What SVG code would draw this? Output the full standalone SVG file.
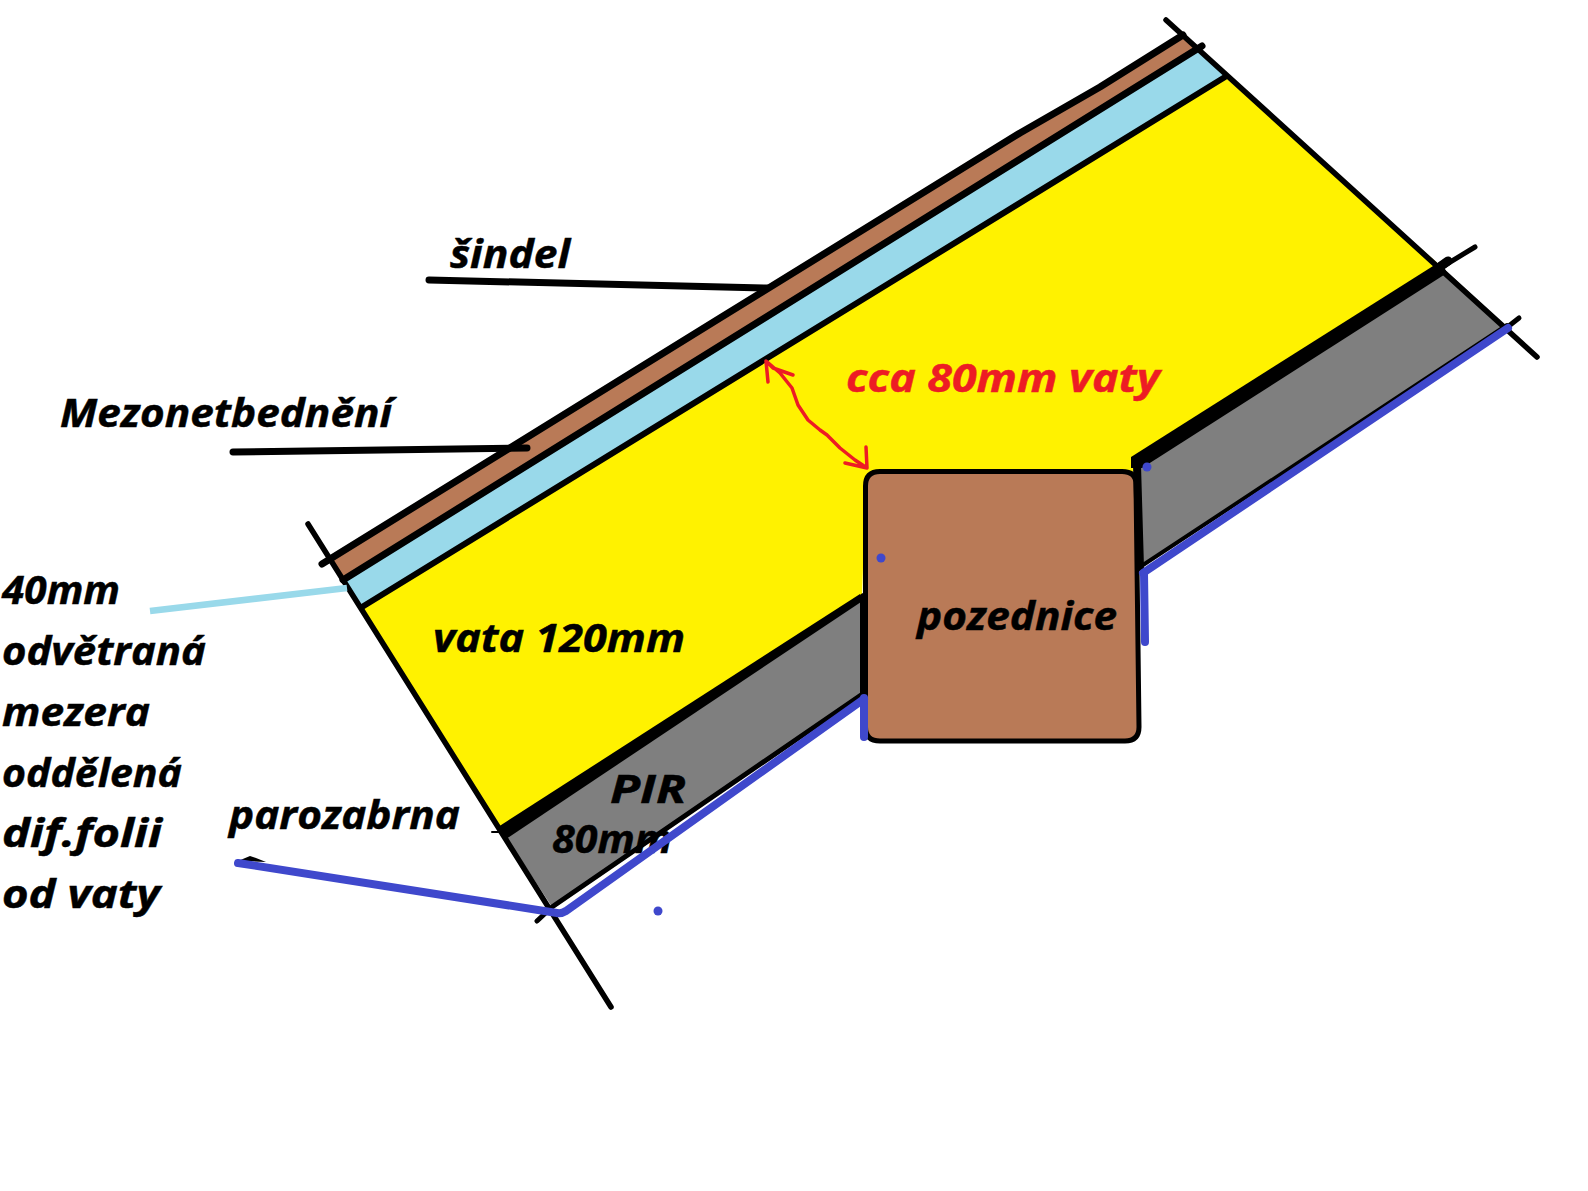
<svg xmlns="http://www.w3.org/2000/svg" width="1588" height="1191" viewBox="0 0 1588 1191">
<style>
.l{fill:none;stroke:#000;stroke-linecap:round;stroke-linejoin:round}
.b{fill:none;stroke:#3f48cc;stroke-linecap:round;stroke-linejoin:round}
.t{font-family:"Open Sans","Liberation Sans",sans-serif;font-weight:700;font-style:italic;font-size:40px;fill:#000;stroke:#000;stroke-width:.5}
</style>
<rect width="1588" height="1191" fill="#fff"/>
<g id="layers">
<polygon id="sindel-layer" points="332,559 720,318 1020,133 1100,87 1183,35 1200,47 343,580" fill="#b97a57"/>
<polygon id="air-layer" points="343,580 1200,47 1225,77 362,607" fill="#99d9ea"/>
<polygon id="wool-layer" points="362,607 1225,77 1442,267 1133,462 1133,480 866,480 862,597 503,832" fill="#fff200"/>
<polygon id="pir-left" points="503,832 862,597 864,693 552,907" fill="#7f7f7f"/>
<polygon id="pir-right" points="1133,462 1442,267 1507,327 1140,567" fill="#7f7f7f"/>
</g>
<g id="pozednice">
<path d="M880,471.500 H1122 Q1136,471.500 1136,484 L1139,727 Q1139,741 1125,741 H880 Q865.500,741 865.500,727 V486 Q865.500,471.500 880,471.500 Z" fill="#b97a57" stroke="#000" stroke-width="5"/>
<text class="t" x="917" y="630" textLength="200" lengthAdjust="spacingAndGlyphs">pozednice</text>
</g>
<g id="pir-label">
<text class="t" x="610" y="803" textLength="76" lengthAdjust="spacingAndGlyphs">PIR</text>
<text class="t" x="552" y="853" textLength="120" lengthAdjust="spacingAndGlyphs">80mm</text>
</g>
<g id="connectors">
<path class="l" stroke-width="5.500" d="M308,524 L611,1007"/>
<path class="l" stroke-width="5.500" d="M1166,20 L1537,357"/>
<path class="l" stroke-width="7" d="M322,564 L720,318 L1020,133 L1100,87 L1183,35"/>
<path class="l" stroke-width="7" d="M343,580 L1202,46"/>
<path class="l" stroke-width="6" d="M362,607 L1225,77"/>
<polygon points="498,827 860,594 864,600 506,839"/>
<path class="l" stroke-width="2" d="M492,832 H503"/>
<polygon points="1131,457 1441,261 1447,273 1142,468 1131,468"/>
<path class="l" stroke-width="9" d="M1441,266 L1448,261"/>
<path class="l" stroke-width="5" d="M1442,267 L1475,247"/>
<path class="l" stroke-width="5" d="M1505,329 L1519,318"/>
<path class="l" stroke-width="4" d="M1140,567 L1507,325"/>
<path class="l" stroke-width="5" d="M537,921 L552,907 L864,693"/>
<path class="l" stroke-width="8" d="M864,597 L864,693"/>
<path class="l" stroke-width="8" d="M1137,465 L1140,567"/>
<path class="l" stroke-width="7" d="M429,280 L767,288"/>
<path class="l" stroke-width="7" d="M233,452 L527,448"/>
<path fill="none" stroke="#99d9ea" stroke-width="6.500" d="M150,611 L347,588"/>
<polygon points="238,861 250,856 256,858 266,862 245,861"/>
<path class="b" stroke-width="8" d="M238,863 L557,913 Q561,914 566,911 L864,699"/>
<path class="b" stroke-width="8" stroke-linecap="butt" d="M864,698 V737"/>
<path class="b" stroke-width="8" d="M1143,573 L1508,328"/>
<path class="b" stroke-width="8" d="M1144,573 L1145,642"/>
<path fill="none" stroke="#ed1c24" stroke-width="3.500" stroke-linecap="round" stroke-linejoin="round" d="M766,361 L780,373 L792,388 L798,405 L808,420 L820,430 L827,435 L840,448 L855,460 L867,468 M766,361 L768,382 M766,361 L773,368 L793,375 M867,468 L845,463 M867,468 L866,447"/>
</g>
<g id="dots" fill="#3f48cc">
<circle cx="881" cy="558" r="4.500"/>
<circle cx="1147" cy="467" r="4.500"/>
<circle cx="658" cy="911" r="4.500"/>
</g>
<g id="labels">
<text class="t" x="450" y="268" textLength="120" lengthAdjust="spacingAndGlyphs">šindel</text>
<text class="t" x="60" y="427" textLength="332" lengthAdjust="spacingAndGlyphs">Mezonetbednění</text>
<text class="t" x="2" y="604" textLength="118" lengthAdjust="spacingAndGlyphs">40mm</text>
<text class="t" x="2" y="665" textLength="204" lengthAdjust="spacingAndGlyphs">odvětraná</text>
<text class="t" x="2" y="726" textLength="148" lengthAdjust="spacingAndGlyphs">mezera</text>
<text class="t" x="2" y="787" textLength="180" lengthAdjust="spacingAndGlyphs">oddělená</text>
<text class="t" x="2" y="847" textLength="160" lengthAdjust="spacingAndGlyphs">dif.folii</text>
<text class="t" x="2" y="908" textLength="158" lengthAdjust="spacingAndGlyphs">od vaty</text>
<text class="t" x="229" y="829" textLength="231" lengthAdjust="spacingAndGlyphs">parozabrna</text>
<text class="t" x="433" y="652" textLength="252" lengthAdjust="spacingAndGlyphs">vata 120mm</text>
<text class="t" x="846" y="392" textLength="314" lengthAdjust="spacingAndGlyphs" style="fill:#ed1c24;stroke:#ed1c24">cca 80mm vaty</text>
</g>
</svg>
